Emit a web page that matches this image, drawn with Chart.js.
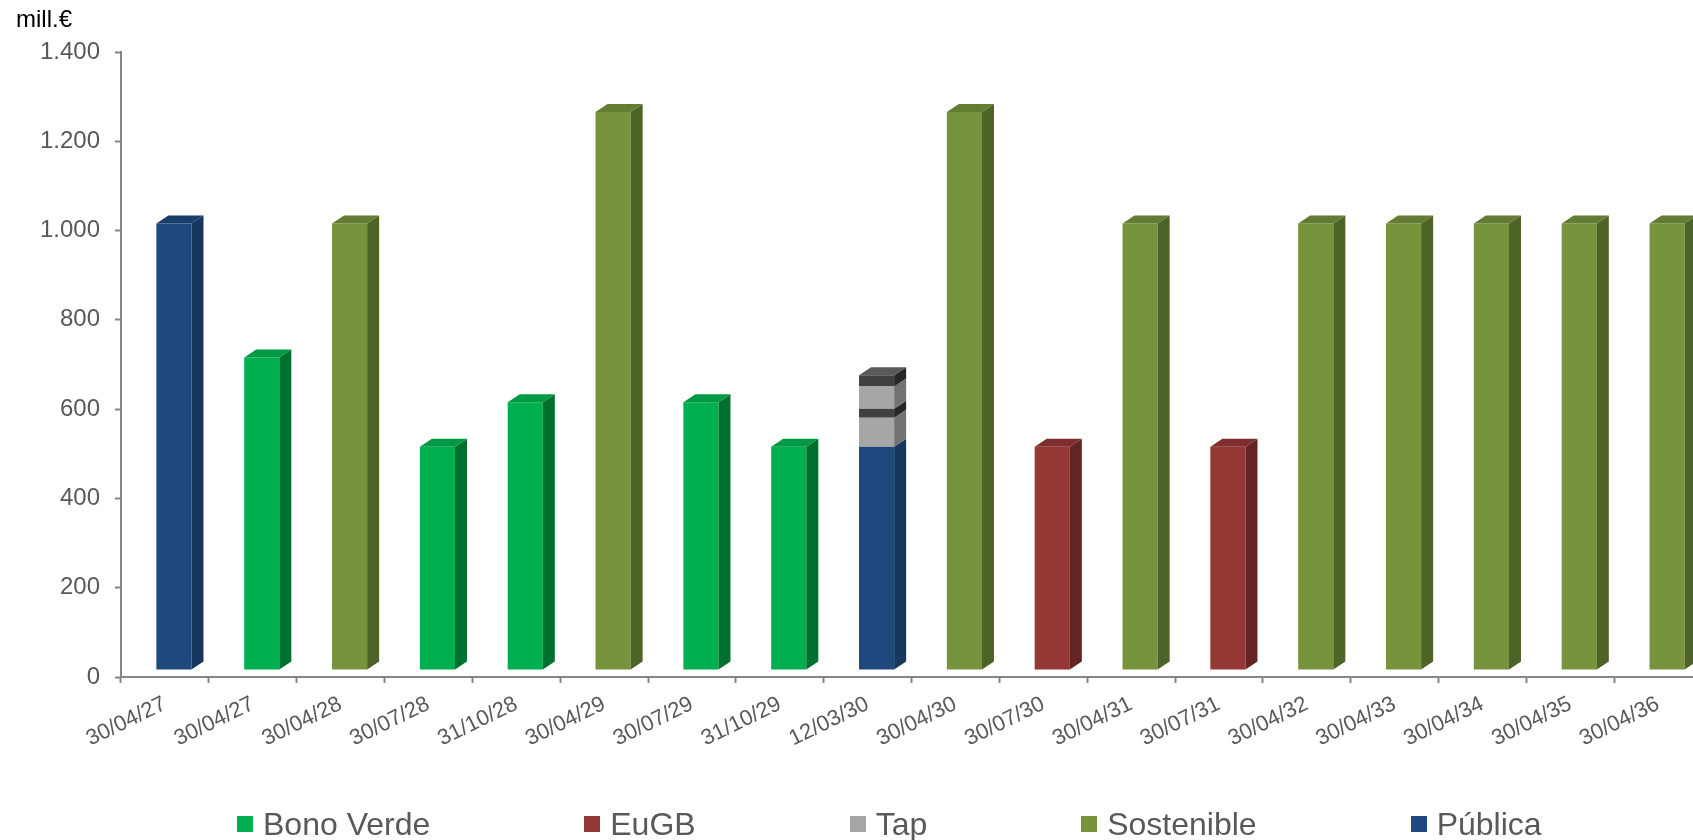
<!DOCTYPE html>
<html>
<head>
<meta charset="utf-8">
<script src="https://cdn.jsdelivr.net/npm/chart.js@4"></script>
<style>
  html, body { margin: 0; padding: 0; background: #fff; overflow: hidden; width: 1693px; height: 840px; }
  #wrap { position: relative; width: 1693px; height: 840px; overflow: hidden; }
  #c { position: absolute; left: 0; top: 0; width: 1704px; height: 840px; }
  #unit { position: absolute; left: 16px; top: 7px; font: 24px "Liberation Sans", Arial, sans-serif; line-height: 24px; color: #000; }
  #legend { position: absolute; left: 237px; top: 806px; display: flex; gap: 154px; align-items: center;
            font: 32px "Liberation Sans", Arial, sans-serif; color: #595959; line-height: 36px; white-space: nowrap; }
  .item { display: flex; align-items: center; }
  .sq { display: inline-block; width: 16px; height: 16px; margin-right: 10px; }
</style>
</head>
<body>
<div id="wrap">
  <canvas id="c" width="1704" height="840"></canvas>
  <div id="unit">mill.€</div>
  <div id="legend"></div>
</div>
<script>
// ---- data ----
const categories = ['30/04/27','30/04/27','30/04/28','30/07/28','31/10/28','30/04/29','30/07/29','31/10/29','12/03/30','30/04/30','30/07/30','30/04/31','30/07/31','30/04/32','30/04/33','30/04/34','30/04/35','30/04/36'];
const publica    = [1000, null, null, null, null, null, null, null, 500, null, null, null, null, null, null, null, null, null];
const bonoVerde  = [null, 700, null, 500, 600, null, 600, 500, null, null, null, null, null, null, null, null, null, null];
const sostenible = [null, null, 1000, null, null, 1250, null, null, null, 1250, null, 1000, null, 1000, 1000, 1000, 1000, 1000];
const eugb       = [null, null, null, null, null, null, null, null, null, null, 500, null, 500, null, null, null, null, null];
const tap1       = [null, null, null, null, null, null, null, null, 65, null, null, null, null, null, null, null, null, null];
const tapDark1   = [null, null, null, null, null, null, null, null, 20, null, null, null, null, null, null, null, null, null];
const tap2       = [null, null, null, null, null, null, null, null, 50, null, null, null, null, null, null, null, null, null];
const tapDark2   = [null, null, null, null, null, null, null, null, 25, null, null, null, null, null, null, null, null, null];
const legendNames = ['Bono Verde', 'EuGB', 'Tap', 'Sostenible', 'Pública'];

// ---- colours (front, side, top) ----
const C = {
  publica:    ['#1F497D', '#17375E', '#1A3E6B'],
  bono:       ['#00B050', '#00702F', '#009A45'],
  sost:       ['#77933C', '#4F6228', '#637C32'],
  eugb:       ['#953735', '#632523', '#7E2E2C'],
  tap:        ['#A6A6A6', '#737373', '#8C8C8C'],
  tapDark:    ['#404040', '#262626', '#595959']
};

const ds = (label, data, col, legend) => ({
  label, data, backgroundColor: col[0], sideColor: col[1], topColor: col[2], inLegend: legend,
  borderWidth: 0, barPercentage: 0.4, categoryPercentage: 1.0
});

const datasets = [
  ds('Pública', publica, C.publica, true),
  ds('Bono Verde', bonoVerde, C.bono, true),
  ds('Sostenible', sostenible, C.sost, true),
  ds('EuGB', eugb, C.eugb, true),
  ds('Tap', tap1, C.tap, true),
  ds('Tap (2)', tapDark1, C.tapDark, false),
  ds('Tap (3)', tap2, C.tap, false),
  ds('Tap (4)', tapDark2, C.tapDark, false)
];

const DX = 9, DY = 7;     // front face shift (depth)
const SX = 12, SY = 8;    // extrusion

const bars3d = {
  id: 'bars3d',
  beforeDatasetsDraw(chart) {
    chart.ctx.save();
    chart.ctx.translate(DX, -DY);
  },
  afterDatasetsDraw(chart) {
    const ctx = chart.ctx;
    const tops = {};
    chart.getSortedVisibleDatasetMetas().forEach(meta => {
      const d = chart.data.datasets[meta.index];
      meta.data.forEach((el, i) => {
        const v = d.data[i];
        if (v === null || v === undefined || v === 0) return;
        const p = el.getProps(['x', 'y', 'base', 'width'], true);
        const l = p.x - p.width / 2, r = p.x + p.width / 2;
        ctx.fillStyle = d.sideColor;
        ctx.beginPath();
        ctx.moveTo(r, p.y);
        ctx.lineTo(r + SX, p.y - SY);
        ctx.lineTo(r + SX, p.base - SY);
        ctx.lineTo(r, p.base);
        ctx.closePath();
        ctx.fill();
        if (!tops[i] || p.y < tops[i].y) tops[i] = { y: p.y, l, r, c: d.topColor };
      });
    });
    Object.values(tops).forEach(t => {
      ctx.fillStyle = t.c;
      ctx.beginPath();
      ctx.moveTo(t.l, t.y);
      ctx.lineTo(t.l + SX, t.y - SY);
      ctx.lineTo(t.r + SX, t.y - SY);
      ctx.lineTo(t.r, t.y);
      ctx.closePath();
      ctx.fill();
    });
    ctx.restore();
  }
};

const fmt = v => String(v).replace(/\B(?=(\d{3})+(?!\d))/g, '.');

new Chart(document.getElementById('c'), {
  type: 'bar',
  data: { labels: categories, datasets },
  plugins: [bars3d],
  options: {
    responsive: false,
    animation: false,
    devicePixelRatio: 1,
    layout: { padding: { top: 52, right: 2, left: 0, bottom: 0 } },
    plugins: { legend: { display: false }, tooltip: { enabled: false } },
    scales: {
      x: {
        stacked: true,
        offset: true,
        afterFit(s) { s.height = 163; },
        grid: { display: true, drawOnChartArea: false, offset: true, tickLength: 6, tickColor: '#868686', tickWidth: 2 },
        border: { display: true, color: '#868686', width: 2 },
        ticks: {
          color: '#595959', font: { family: '"Liberation Sans", Arial, sans-serif', size: 22 },
          minRotation: 26, maxRotation: 26, autoSkip: false, padding: 8
        }
      },
      y: {
        stacked: true,
        min: 0, max: 1400,
        afterFit(s) { s.width = 121; },
        grid: { display: true, drawOnChartArea: false, tickLength: 6, tickColor: '#868686', tickWidth: 2 },
        border: { display: true, color: '#868686', width: 2 },
        ticks: {
          stepSize: 200, padding: 15, color: '#595959',
          font: { family: '"Liberation Sans", Arial, sans-serif', size: 24 },
          callback: v => fmt(v)
        }
      }
    }
  }
});

// HTML legend built from the dataset colours
const lg = document.getElementById('legend');
legendNames.forEach(name => {
  const d = datasets.find(x => x.label === name);
  const it = document.createElement('div');
  it.className = 'item';
  const sq = document.createElement('span');
  sq.className = 'sq';
  sq.style.background = d.backgroundColor;
  const tx = document.createElement('span');
  tx.textContent = name;
  it.appendChild(sq); it.appendChild(tx);
  lg.appendChild(it);
});
</script>
</body>
</html>
